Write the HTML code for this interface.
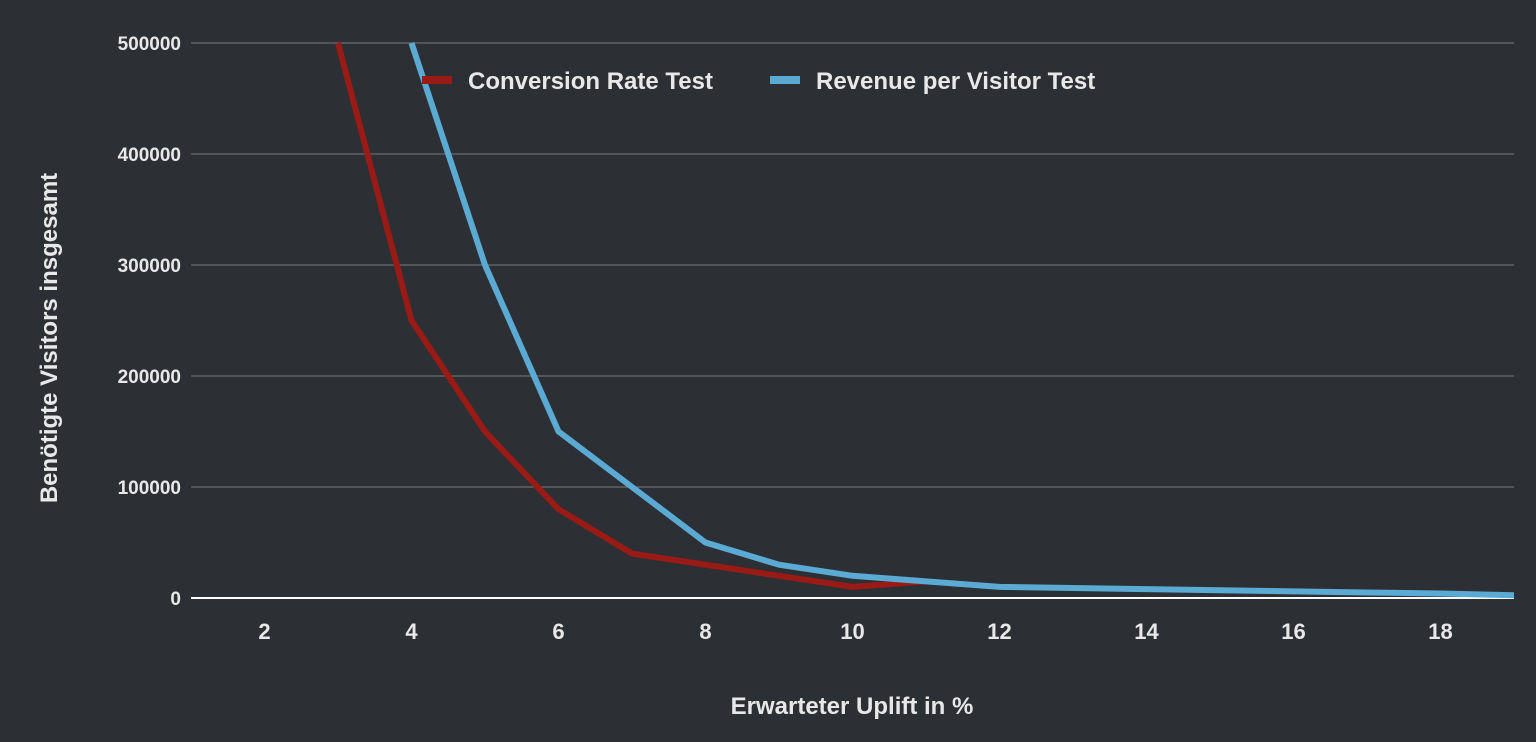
<!DOCTYPE html>
<html><head><meta charset="utf-8"><style>
html,body{margin:0;padding:0;background:#2c2f33;}
svg{display:block;font-family:"Liberation Sans",sans-serif;font-weight:bold;}
</style></head><body>
<svg id="chart" width="1536" height="742" viewBox="0 0 1536 742">
<rect width="1536" height="742" fill="#2c2f33"/>
<g id="grid"></g>
<g id="yticks"></g>
<g id="xticks"></g>
<g id="series"></g>
<text x="852" y="714" fill="#e8e8e8" font-size="24" text-anchor="middle">Erwarteter Uplift in %</text>
<text transform="translate(57,338) rotate(-90)" fill="#e8e8e8" font-size="24" text-anchor="middle">Benötigte Visitors insgesamt</text>
<g>
<g>
<rect x="422" y="76" width="30" height="8" fill="#9a1a16"/>
<text x="468" y="89" fill="#e8e8e8" font-size="24">Conversion Rate Test</text></g>
<g>
<rect x="770" y="76" width="30" height="8" fill="#5aaad4"/>
<text x="816" y="89" fill="#e8e8e8" font-size="24">Revenue per Visitor Test</text></g>
</g>
</svg>
<script>
const xTicks=[2,4,6,8,10,12,14,16,18];
const yTicks=[0,100000,200000,300000,400000,500000];
const crX=[3,4,5,6,7,8,9,10,11];
const crY=[500000,250000,150000,80000,40000,30000,20000,10000,15000];
const rpvX=[4,5,6,7,8,9,10,11,12,13,14,15,16,17,18,19];
const rpvY=[500000,300000,150000,100000,50000,30000,20000,15000,10000,9000,8000,7000,6000,5000,4000,2500];
const L=191,R=1514,T=43,B=598,xMin=1,xMax=19,yMax=500000;
const sx=v=>L+(v-xMin)/(xMax-xMin)*(R-L);
const sy=v=>B-v/yMax*(B-T);
const NS="http://www.w3.org/2000/svg";
function mk(t,a,p){const e=document.createElementNS(NS,t);for(const k in a)e.setAttribute(k,a[k]);p.appendChild(e);return e;}
const grid=document.getElementById('grid'),yt=document.getElementById('yticks'),xt=document.getElementById('xticks'),ser=document.getElementById('series');
yTicks.forEach(v=>{
 const ln=mk('line',{x1:L,x2:R,y1:sy(v),y2:sy(v),stroke:v===0?'#ffffff':'#6a6d70','stroke-width':v===0?2:1.3},grid);
 
 
 const t=mk('text',{x:181,y:sy(v)+7,fill:'#e8e8e8','font-size':19,'text-anchor':'end'},yt);
 t.textContent=v;
 
 
});
xTicks.forEach(v=>{
 const t=mk('text',{x:sx(v),y:639,fill:'#e8e8e8','font-size':22,'text-anchor':'middle'},xt);
 t.textContent=v;
 
 
});
function line(xs,ys,c,name){
 const p=mk('polyline',{points:xs.map((x,i)=>sx(x)+','+sy(ys[i])).join(' '),fill:'none',stroke:c,'stroke-width':6,'stroke-linejoin':'miter'},ser);
 
 
}
line(crX,crY,'#9a1a16','conversion-rate-line');
line(rpvX,rpvY,'#5aaad4','revenue-per-visitor-line');
</script>
</body></html>
